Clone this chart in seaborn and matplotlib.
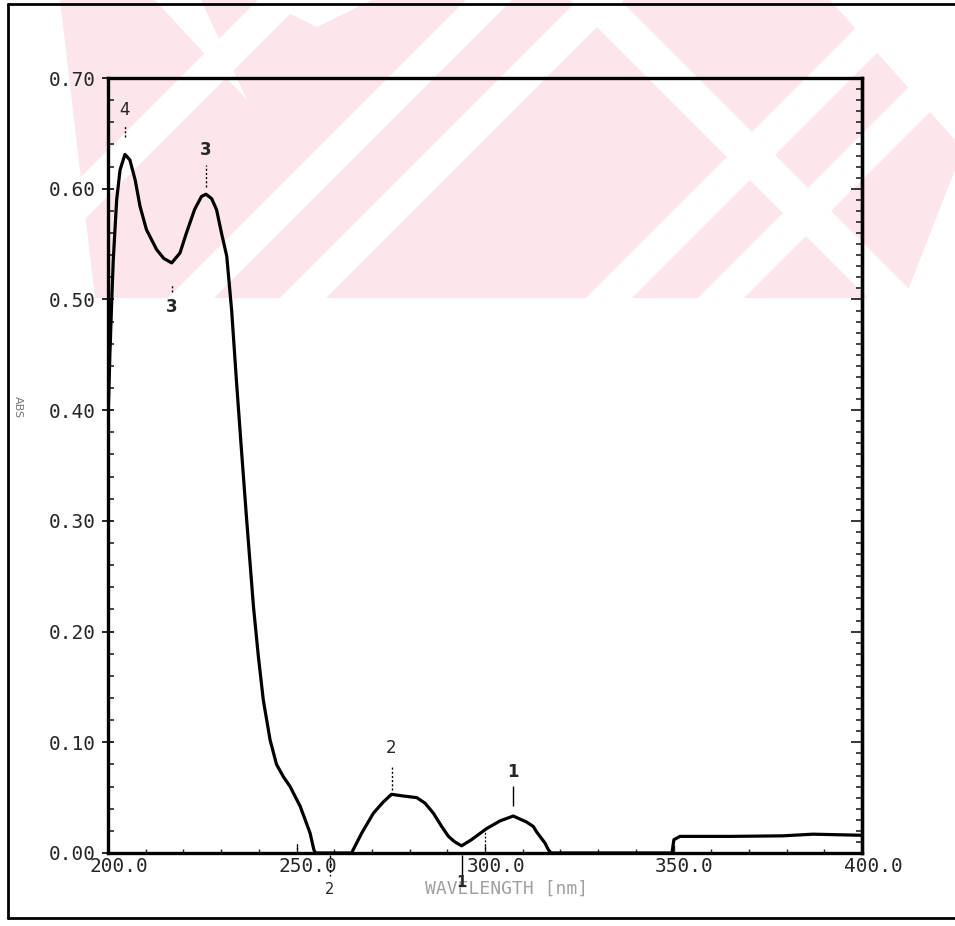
import numpy as np
import pandas as pd
import matplotlib
matplotlib.use("Agg")
import matplotlib.pyplot as plt
import matplotlib.ticker as mticker
from matplotlib.lines import Line2D
from matplotlib.patches import Polygon
from matplotlib.transforms import blended_transform_factory, ScaledTranslation
import seaborn as sns

# UV absorption spectrum
wavelength = [200.0, 200.5, 201.0, 201.4, 201.9, 202.3, 203.2, 204.5, 205.8, 207.2,
              208.5, 210.2, 212.9, 214.8, 216.9, 219.1, 220.8, 223.0, 224.8, 226.0,
              227.5, 228.8, 230.1, 231.5, 232.8, 234.1, 235.4, 236.8, 238.6, 239.9,
              241.2, 243.0, 244.7, 246.5, 248.3, 251.0, 253.6, 254.6, 255.0, 264.6,
              267.3, 270.4, 273.0, 275.2, 278.3, 281.9, 284.1, 286.3, 288.5, 290.3,
              292.0, 293.8, 296.4, 300.4, 304.0, 307.5, 311.0, 312.8, 313.7, 315.9,
              316.8, 317.5, 349.6, 350.1, 351.7, 365.0, 379.0, 387.0, 400.0]
absorbance = [0.390, 0.450, 0.500, 0.536, 0.566, 0.590, 0.617, 0.631, 0.626, 0.608,
              0.584, 0.563, 0.545, 0.537, 0.533, 0.542, 0.560, 0.5815, 0.593, 0.595,
              0.591, 0.581, 0.560, 0.539, 0.490, 0.425, 0.364, 0.300, 0.222, 0.177,
              0.138, 0.102, 0.080, 0.069, 0.060, 0.042, 0.018, 0.003, 0.000, 0.000,
              0.018, 0.036, 0.046, 0.053, 0.0515, 0.050, 0.045, 0.036, 0.024, 0.015,
              0.010, 0.0065, 0.012, 0.022, 0.029, 0.0334, 0.028, 0.024, 0.019, 0.009,
              0.003, 0.000, 0.000, 0.012, 0.015, 0.015, 0.0155, 0.017, 0.016]

# marked maxima (above the trace) and minima
peak_nm = [204.5, 226.0, 275.2, 307.5]
peak_abs = [0.631, 0.595, 0.053, 0.0334]
peak_ids = ["4", "3", "2", "1"]
valley_nm = [216.9]
valley_abs = [0.533]
valley_ids = ["3"]
base_valley_nm = [258.9, 293.8]
base_valley_ids = ["2", "1"]

x_ticks = [200.0, 250.0, 300.0, 350.0, 400.0]
y_ticks = [0.00, 0.10, 0.20, 0.30, 0.40, 0.50, 0.60, 0.70]

df = pd.DataFrame({"nm": wavelength, "abs": absorbance})

sns.set_style("white")
plt.rcParams["font.family"] = ["DejaVu Sans"]

W, H = 955, 926
fig = plt.figure(figsize=(W / 100, H / 100), dpi=100)


def fx(px):
    return px / W


def fy(py):
    return 1 - py / H


def page_poly(pts, color, z):
    return Polygon([(fx(a), fy(b)) for a, b in pts], closed=True,
                   transform=fig.transFigure, facecolor=color, edgecolor="none",
                   zorder=z)


# light page emblem printed behind the chart (pixel outline, y measured downward)
pink = "#fde6eb"
fig.add_artist(page_poly([(60, 0), (955, 0), (955, 170), (905, 298), (95, 298)],
                         pink, -10))


def stripe(c, w, sign, y0=0, y1=298):
    # white diagonal gap: points where x + sign*y lies in [c, c + w]
    return page_poly([(c - sign * y0, y0), (c + w - sign * y0, y0),
                      (c + w - sign * y1, y1), (c - sign * y1, y1)], "white", -9)


for c in [258, 466, 578, 884, 996]:
    fig.add_artist(stripe(c, 46, +1))
fig.add_artist(stripe(570, 50, -1))
fig.add_artist(page_poly([(155, 0), (201, 0), (247, 100)], "white", -9))
fig.add_artist(page_poly([(262, 0), (372, 0), (317, 27)], "white", -9))
fig.add_artist(page_poly([(830, 0), (955, 0), (955, 140)], "white", -9))

ax = fig.add_axes([fx(108), fy(853), 754 / W, 775 / H])
ax.patch.set_alpha(0)

sns.lineplot(data=df, x="nm", y="abs", ax=ax, color="black", linewidth=2.3,
             sort=False, estimator=None)

ax.set_xlim(200, 400)
ax.set_ylim(0.0, 0.70)

for s in ax.spines.values():
    s.set_visible(True)
    s.set_color("black")
    s.set_linewidth(2.4)

ax.xaxis.set_major_locator(mticker.FixedLocator(x_ticks))
ax.xaxis.set_major_formatter(mticker.FormatStrFormatter("%.1f"))
ax.xaxis.set_minor_locator(mticker.MultipleLocator(10))
ax.yaxis.set_major_locator(mticker.FixedLocator(y_ticks))
ax.yaxis.set_major_formatter(mticker.FormatStrFormatter("%.2f"))
ax.yaxis.set_minor_locator(mticker.MultipleLocator(0.02))

mono = "DejaVu Sans Mono"
ax.tick_params(axis="y", which="major", direction="inout", length=9, width=1.4,
               labelsize=14, pad=4, left=True)
ax.tick_params(axis="y", which="minor", direction="in", length=4, width=1.2, left=True)
ax.tick_params(axis="x", which="major", direction="in", length=6, width=1.0,
               labelsize=14, pad=3, bottom=True)
ax.tick_params(axis="x", which="minor", direction="in", length=3, width=1.0, bottom=True)
for lbl in ax.get_yticklabels() + ax.get_xticklabels():
    lbl.set_family(mono)

offset = ScaledTranslation(11 / 100, 0, fig.dpi_scale_trans)
for lbl in ax.get_xticklabels():
    lbl.set_transform(lbl.get_transform() + offset)

# right-hand scale: finer ticks, no labels
sec = ax.secondary_yaxis("right")
sec.yaxis.set_major_locator(mticker.FixedLocator(y_ticks))
sec.yaxis.set_minor_locator(mticker.MultipleLocator(0.01))
sec.tick_params(which="major", direction="in", length=8, width=1.3, labelright=False)
sec.tick_params(which="minor", direction="in", length=4, width=1.2)
sec.spines["right"].set_linewidth(2.4)

ax.set_xlabel("WAVELENGTH [nm]", fontsize=13, color="#a0a0a0", family=mono)
ax.xaxis.set_label_coords(0.528, -0.035)
ax.set_ylabel("ABS", fontsize=8, color="#777777", rotation=-90, va="center")
ax.yaxis.set_label_coords(-0.119, 0.575)

# peak markers
lift = [(0.040, 0.016, 0.026), (0.040, 0.007, 0.026), (0.042, 0.004, 0.026),
        (0.040, 0.009, 0.027)]
for x, y, t, (dt, d0, d1) in zip(peak_nm, peak_abs, peak_ids, lift):
    style = "-" if t == "1" else (0, (1.5, 1.5))
    ax.vlines(x, y + d0, y + d1, colors="black", linewidth=1.0, linestyles=style)
    ax.text(x, y + dt, t, ha="center", va="center", fontsize=12,
            fontweight="bold" if t in ("1", "3") else "normal")

for x, y, t in zip(valley_nm, valley_abs, valley_ids):
    ax.vlines(x, y - 0.026, y - 0.019, colors="black", linewidth=1.0,
              linestyles=(0, (1.5, 1.5)))
    ax.text(x, y - 0.040, t, ha="center", va="center", fontsize=12, fontweight="bold")

trans = blended_transform_factory(ax.transData, ax.transAxes)
for x, t in zip(base_valley_nm, base_valley_ids):
    ax.vlines(x, -0.003, -0.030, colors="black", linewidth=1.0, transform=trans,
              clip_on=False, linestyles="-" if t == "1" else (0, (2, 1.5)))
    ax.text(x, -0.038 if t == "1" else -0.047, t, ha="center", va="center",
            fontsize=10.5, transform=trans, clip_on=False,
            fontweight="bold" if t == "1" else "normal")

# reference marks at 250 and 300 nm
ax.vlines([250.0, 300.0], 0, [0.010, 0.021], colors="black", linewidth=0.9,
          linestyles=(0, (1.5, 1.5)))

# chart border
for xs, ys in [((fx(8), 1.0), (fy(4), fy(4))),
               ((fx(8), fx(8)), (fy(4), fy(918))),
               ((fx(8), 1.0), (fy(918), fy(918)))]:
    fig.add_artist(Line2D(xs, ys, transform=fig.transFigure, color="black", linewidth=2.0))

fig.savefig("out.png", dpi=100, facecolor="white")
